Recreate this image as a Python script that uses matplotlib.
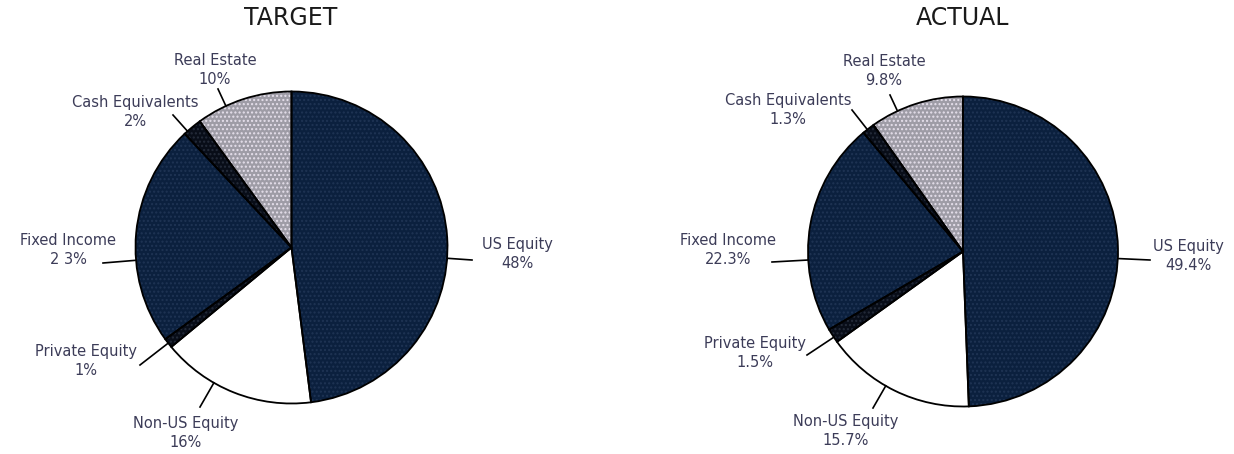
import matplotlib.pyplot as plt
import numpy as np

# data
labels = ['US Equity', 'Non-US Equity', 'Private Equity', 'Fixed Income',
          'Cash Equivalents', 'Real Estate']
target = [48, 16, 1, 23, 2, 10]
actual = [49.4, 15.7, 1.5, 22.3, 1.3, 9.8]
target_txt = ['48%', '16%', '1%', '2 3%', '2%', '10%']
actual_txt = ['49.4%', '15.7%', '1.5%', '22.3%', '1.3%', '9.8%']

colors = ['#0b203e', '#ffffff', '#080d18', '#0b203e', '#080d18', '#9e9ca6']
dots = ['#1f3454', '#ffffff', '#252c3a', '#1f3454', '#252c3a', '#e6e0ec']

W, H = 1234, 454

def P(x, y):
    # reference pixel -> axes data (y up)
    return x, H - y

fig = plt.figure(figsize=(W / 100, H / 100), dpi=100)
ax = fig.add_axes([0, 0, 1, 1])

# layout: pie center, radius, title x, and per label (text pos, leader end)
panels = [
    dict(vals=target, txt=target_txt, title='TARGET', c=(291.5, 247.5), r=156, tx=291,
         lab=[((517, 254), (472, 260)),
              ((186, 433), (200, 407)),
              ((86, 361), (140, 365)),
              ((68, 250), (103, 263)),
              ((135, 112), (173, 115)),
              ((215, 70), (218, 89))]),
    dict(vals=actual, txt=actual_txt, title='ACTUAL', c=(963, 251.5), r=155, tx=963,
         lab=[((1188, 256), (1150, 260)),
              ((846, 431), (873, 408)),
              ((755, 353), (807, 355)),
              ((728, 250), (772, 262)),
              ((788, 110), (852, 110)),
              ((884, 71), (890, 95))]),
]

for p in panels:
    cx, cy = P(*p['c'])
    # filled, dotted wedges
    wedges, _ = ax.pie(p['vals'], startangle=90, counterclock=False, colors=colors,
                       center=(cx, cy), radius=p['r'],
                       wedgeprops=dict(linewidth=0))
    for w, d in zip(wedges, dots):
        w.set_hatch('....')
        w.set_edgecolor(d)
    # outline
    ax.pie(p['vals'], startangle=90, counterclock=False, center=(cx, cy), radius=p['r'],
           wedgeprops=dict(facecolor='none', edgecolor='black', linewidth=1.3))

    ax.text(*P(p['tx'], 18), p['title'], ha='center', va='center',
            fontsize=17, color='#1a1a1a', family='DejaVu Sans')

    for name, t, (tp, le) in zip(labels, p['txt'], p['lab']):
        ex, ey = P(*le)
        ang = np.arctan2(ey - cy, ex - cx)
        sx, sy = cx + p['r'] * np.cos(ang), cy + p['r'] * np.sin(ang)
        ax.plot([sx, ex], [sy, ey], color='black', lw=1.2)
        ax.text(*P(*tp), name + '\n' + t, ha='center', va='center', fontsize=10.5,
                color='#3c3c58', linespacing=1.35)

ax.set_xlim(0, W)
ax.set_ylim(0, H)
ax.set_aspect('equal')
ax.axis('off')

plt.savefig('out.png', dpi=100)
